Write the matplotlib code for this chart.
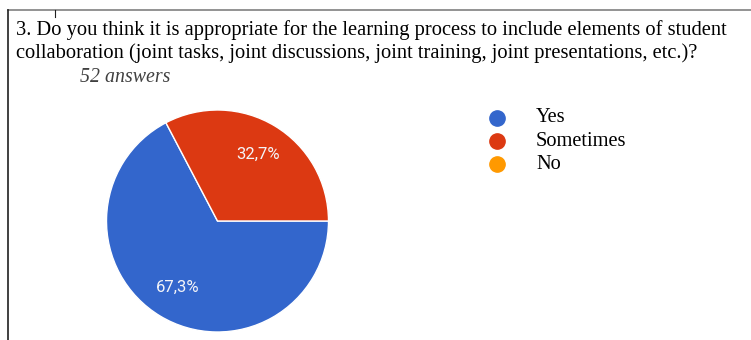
import matplotlib
matplotlib.use("Agg")
import matplotlib.pyplot as plt
from matplotlib.lines import Line2D

# survey answers (52 in total)
labels = ["Yes", "Sometimes", "No"]
counts = [35, 17, 0]
percents = [67.3, 32.7, 0.0]
colors = ["#3366CC", "#DC3912", "#FF9900"]

question = ("3. Do you think it is appropriate for the learning process to include elements of student\n"
            "collaboration (joint tasks, joint discussions, joint training, joint presentations, etc.)?")
n_answers = "52 answers"

W, H = 751, 340
fig = plt.figure(figsize=(W / 100, H / 100), dpi=100)
fig.patch.set_facecolor("white")


def fx(px):
    return px / W


def fy(py):
    return 1 - py / H


# frame lines of the screenshot
fig.add_artist(Line2D([fx(8), 1], [fy(10), fy(10)], color="#808080", lw=1.2))
fig.add_artist(Line2D([fx(8), fx(8)], [fy(10), 0], color="#202020", lw=1.2))
fig.add_artist(Line2D([fx(55), fx(55)], [fy(10), fy(17)], color="#202020", lw=0.8))

fig.text(fx(16), fy(20), question, ha="left", va="top", fontsize=14.8,
         family="Liberation Serif", linespacing=1.22, color="black")
fig.text(fx(80), fy(78), n_answers, ha="left", va="center", fontsize=14.3,
         family="Liberation Serif", style="italic", color="#404040")

# pie
cx, cy, r = 217.5, 221, 111
ax = fig.add_axes([fx(cx - r), fy(cy + r), fx(2 * r), 2 * r / H])
vals = [c for c in counts if c > 0]
cols = [col for c, col in zip(counts, colors) if c > 0]
pcts = [p for c, p in zip(counts, percents) if c > 0]
pct_iter = iter(pcts)
start = 360 * counts[1] / sum(counts)
wedges, _, autotexts = ax.pie(
    vals, colors=cols, startangle=start, counterclock=True,
    autopct=lambda p: f"{next(pct_iter):.1f}%".replace(".", ","),
    pctdistance=0.7, radius=1,
    wedgeprops=dict(edgecolor="white", linewidth=1),
    textprops=dict(color="#F4F4F8", fontsize=12, family="Roboto"))
ax.set_xlim(-1, 1)
ax.set_ylim(-1, 1)
ax.set_aspect("equal")
ax.axis("off")

# legend
leg_y = [118, 141, 164]
for lab, col, y in zip(labels, colors, leg_y):
    fig.add_artist(Line2D([fx(497)], [fy(y)], marker="o", markersize=11,
                          color=col, linestyle="none"))
    fig.text(fx(536), fy(y), lab, ha="left", va="center", fontsize=14.7,
             family="Liberation Serif", color="black")

fig.savefig("out.png", dpi=100)
